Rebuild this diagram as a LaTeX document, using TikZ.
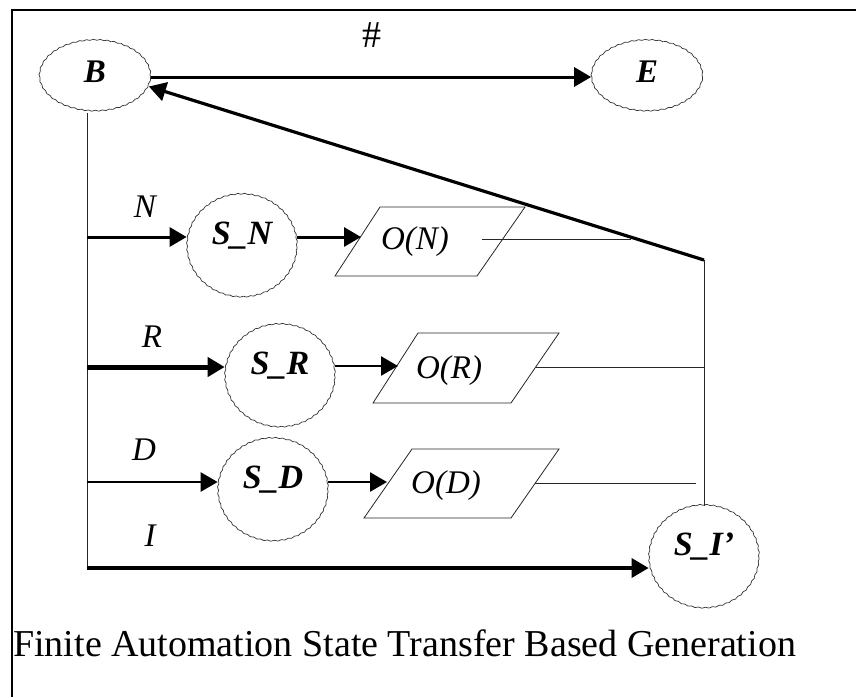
\documentclass[tikz,border=0pt]{standalone}
\usepackage{fontspec}
\setmainfont{Liberation Serif}
\usetikzlibrary{arrows.meta,shapes.geometric,decorations.pathmorphing}

\tikzset{
  state/.style={ellipse, draw=black!80, line width=0.7pt, inner sep=0pt,
    decorate, decoration={snake, segment length=7pt, amplitude=0.5pt}},
  endstate/.style={state, minimum width=111pt, minimum height=71pt},
  substate/.style={state, minimum width=110pt, minimum height=103pt},
  endtext/.style={font=\fontsize{33}{35}\selectfont\bfseries\itshape,
    inner sep=0pt, yshift=5pt},
  subtext/.style={font=\fontsize{34}{36}\selectfont\bfseries\itshape,
    inner sep=0pt, yshift=11.5pt},
  outbox/.style={draw=black!85, line width=0.8pt},
  outtext/.style={font=\fontsize{33}{35}\selectfont\itshape, inner sep=0pt},
  symlabel/.style={font=\fontsize{33}{35}\selectfont\itshape, inner sep=0pt},
  tip/.style={-{Triangle[length=17pt,width=19pt]}},
  bold arrow/.style={tip, line width=3pt},
  thin link/.style={line width=0.8pt, draw=black!85},
  frame/.style={line width=2.6pt}
}

\begin{document}
\begin{tikzpicture}[x=1pt, y=-1pt]
  \useasboundingbox (0,0) rectangle (856,697);

  % frame (top and left edges)
  \draw[frame] (856,10) -- (12,10) -- (12,697);

  % begin / end states
  \node[endstate, label={[endtext]center:B}] (B) at (95,77) {};
  \node[endstate, label={[endtext]center:E}] (E) at (647,77) {};
  \node[symlabel, font=\fontsize{38}{40}\selectfont] (hash) at (372,35) {\#};

  % substates
  \node[substate, label={[subtext]center:S\_N}] (sN) at (242,247) {};
  \node[substate, label={[subtext]center:S\_R}] (sR) at (280,377) {};
  \node[substate, label={[subtext]center:S\_D}] (sD) at (273,491) {};
  \node[substate, label={[subtext]center:S\_I’}] (sI) at (704,558) {};

  % output parallelograms
  \draw[outbox] (380,207) -- (525,207) -- (477,276) -- (335,276) -- cycle;
  \draw[outbox] (418,333) -- (559,333) -- (511,403) -- (373,403) -- cycle;
  \draw[outbox] (412,449) -- (559,449) -- (511,518) -- (364,518) -- cycle;
  \node[outtext] (oN) at (415,242) {O(N)};
  \node[outtext] (oR) at (449,371) {O(R)};
  \node[outtext] (oD) at (446,486) {O(D)};

  % edge points of the parallelograms
  \coordinate (oNin) at (361,237);
  \coordinate (oNmid) at (482,239);
  \coordinate (oRin) at (398,366);
  \coordinate (oRout) at (536,367);
  \coordinate (oDin) at (387,482);
  \coordinate (oDout) at (535,483);

  % branch points on the trunk below B
  \coordinate (trunkTop) at (87,113);
  \coordinate (vN) at (87,237);
  \coordinate (vR) at (87,367);
  \coordinate (vD) at (87,482);
  \coordinate (vI) at (87,568);

  % collector on the right
  \coordinate (ret) at (704,260);
  \coordinate (retR) at (704,367);
  \coordinate (onRet) at (631,239);
  \coordinate (dEnd) at (696,483);

  % transition labels
  \node[symlabel] (lN) at (145,207) {N};
  \node[symlabel] (lR) at (152,337) {R};
  \node[symlabel] (lD) at (144,450) {D};
  \node[symlabel] (lI) at (150,536) {I};

  % trunk
  \draw[thin link] (trunkTop) -- (vI);

  % transitions
  \draw[bold arrow] (B) -- (E);
  \draw[bold arrow, line width=3.2pt] (ret) -- (B.-10);
  \draw[bold arrow] (vN) -- (vN -| sN.west);
  \draw[bold arrow, line width=5pt] (vR) -- (vR -| sR.west);
  \draw[bold arrow, line width=2.6pt] (vD) -- (vD -| sD.west);
  \draw[bold arrow, line width=3.4pt] (vI) -- (vI -| sI.west);
  \draw[bold arrow] (oNin -| sN.east) -- (oNin);
  \draw[bold arrow, line width=2.6pt] (oRin -| sR.east) -- (oRin);
  \draw[bold arrow, line width=2.6pt] (oDin -| sD.east) -- (oDin);

  % output links to the collector
  \draw[thin link] (oNmid) -- (onRet);
  \draw[thin link] (oRout) -- (retR);
  \draw[thin link] (oDout) -- (dEnd);
  \draw[thin link] (ret) -- (sI.north);

  % caption
  \node[anchor=west, inner sep=0pt, font=\fontsize{38}{40}\selectfont] (caption)
    at (13,643) {Finite Automation State Transfer Based Generation};
\end{tikzpicture}
\end{document}
